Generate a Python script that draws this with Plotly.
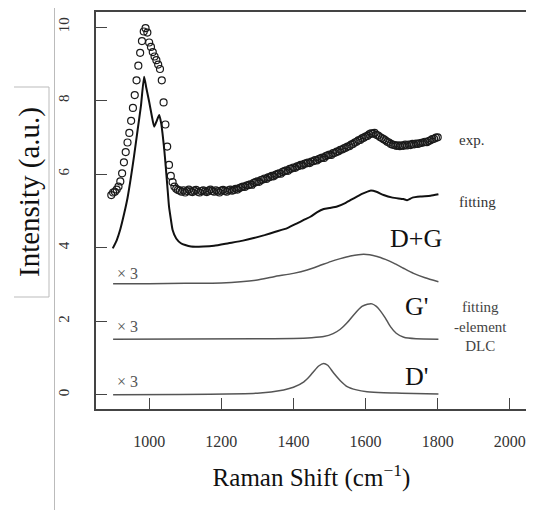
import plotly.graph_objects as go

# ---------------- data ----------------
exp_x = list(range(895, 1801, 5))
exp_y = [
    5.43, 5.50, 5.52, 5.58, 5.66, 5.80, 6.02, 6.32, 6.60, 6.86, 7.12, 7.45, 7.80, 8.15, 8.55, 8.95,
    9.30, 9.62, 9.88, 9.97, 9.85, 9.58, 9.46, 9.32, 9.20, 9.10, 8.98, 8.86, 8.55, 7.95, 7.35, 6.75,
    6.25, 5.95, 5.78, 5.66, 5.60, 5.57,
    5.55, 5.52, 5.56, 5.50, 5.54, 5.58, 5.53, 5.51, 5.55, 5.57, 5.52, 5.50, 5.54, 5.56, 5.53, 5.51,
    5.55, 5.58, 5.54, 5.52, 5.56, 5.53, 5.50, 5.55, 5.57, 5.54, 5.52, 5.56, 5.58, 5.55, 5.57, 5.60,
    5.58, 5.62,
    5.64, 5.66, 5.65, 5.69, 5.70, 5.72, 5.71, 5.76, 5.78, 5.80, 5.79, 5.84, 5.85, 5.88, 5.87, 5.91,
    5.92, 5.95, 5.94, 5.98, 6.00, 6.02, 6.01, 6.06, 6.08, 6.10, 6.09, 6.14, 6.15, 6.18, 6.17, 6.21,
    6.22, 6.25, 6.24, 6.28, 6.29, 6.31, 6.30, 6.34,
    6.35, 6.38, 6.37, 6.41, 6.43, 6.45, 6.44, 6.49, 6.51, 6.53, 6.52, 6.57, 6.58, 6.61, 6.62, 6.66,
    6.67, 6.70, 6.72, 6.75, 6.76, 6.80, 6.82, 6.86, 6.88, 6.92, 6.93, 6.97, 6.99, 7.02, 7.04, 7.08,
    7.11, 7.10, 7.12, 7.07, 7.05, 7.01, 6.98, 6.95,
    6.92, 6.88, 6.86, 6.82, 6.80, 6.79, 6.77, 6.78, 6.76, 6.78, 6.77, 6.80, 6.78, 6.80, 6.79, 6.82,
    6.81, 6.83, 6.82, 6.84, 6.85, 6.86, 6.88, 6.87, 6.90, 6.92, 6.95, 6.96, 6.99, 7.00,
]
n = min(len(exp_x), len(exp_y))
exp_x, exp_y = exp_x[:n], exp_y[:n]

fit_x = [899, 910, 920, 931, 940, 950, 958, 968, 977, 986, 992, 1000, 1007, 1014, 1021, 1028,
         1033, 1037, 1042, 1046, 1051, 1055, 1060, 1065, 1075, 1088, 1100, 1116, 1150, 1180,
         1220, 1260, 1290, 1320, 1350, 1383, 1410, 1430, 1447, 1465, 1484, 1500, 1521, 1545,
         1567, 1590, 1613, 1630, 1650, 1675, 1705, 1715, 1730, 1752, 1780, 1802]
fit_y = [3.98, 4.20, 4.50, 4.94, 5.35, 5.95, 6.48, 7.20, 7.84, 8.65, 8.35, 7.97, 7.60, 7.29,
         7.45, 7.61, 7.40, 7.11, 6.65, 6.20, 5.60, 5.12, 4.78, 4.48, 4.25, 4.12, 4.07, 4.03,
         4.03, 4.05, 4.12, 4.19, 4.26, 4.34, 4.43, 4.53, 4.66, 4.76, 4.84, 4.96, 5.05, 5.08,
         5.12, 5.22, 5.34, 5.46, 5.55, 5.52, 5.43, 5.36, 5.32, 5.29, 5.36, 5.39, 5.41, 5.45]

dg_x = [900, 1000, 1100, 1200, 1254, 1300, 1346, 1400, 1438, 1470, 1503, 1530, 1558, 1595,
        1632, 1655, 1678, 1705, 1733, 1765, 1802]
dg_y = [3.02, 3.02, 3.03, 3.04, 3.07, 3.12, 3.21, 3.30, 3.39, 3.50, 3.62, 3.70, 3.77, 3.82,
        3.76, 3.68, 3.58, 3.44, 3.30, 3.18, 3.07]

gp_x = [900, 1300, 1400, 1450, 1484, 1510, 1530, 1550, 1567, 1590, 1605, 1618, 1630, 1641,
        1655, 1669, 1685, 1706, 1740, 1802]
gp_y = [1.51, 1.52, 1.53, 1.55, 1.58, 1.66, 1.78, 1.97, 2.17, 2.40, 2.46, 2.47, 2.40, 2.28,
        2.08, 1.85, 1.67, 1.56, 1.52, 1.51]

dp_x = [900, 1300, 1373, 1400, 1429, 1445, 1456, 1470, 1484, 1495, 1512, 1530, 1549, 1575,
        1604, 1650, 1700, 1802]
dp_y = [0.00, 0.04, 0.13, 0.20, 0.35, 0.50, 0.63, 0.78, 0.85, 0.80, 0.58, 0.38, 0.22, 0.13,
        0.08, 0.05, 0.04, 0.02]

x_ticks = [1000, 1200, 1400, 1600, 1800, 2000]
y_ticks = [0, 2, 4, 6, 8, 10]

SERIF = "Liberation Serif, Times New Roman, serif"

fig = go.Figure()
fig.add_trace(go.Scatter(x=exp_x, y=exp_y, mode="markers",
                         marker=dict(symbol="circle-open", size=7, color="#1a1a1a",
                                     line=dict(width=1.2, color="#1a1a1a")),
                         showlegend=False, hoverinfo="skip"))
fig.add_trace(go.Scatter(x=fit_x, y=fit_y, mode="lines",
                         line=dict(color="#111", width=2, shape="spline", smoothing=0.5),
                         showlegend=False))
for bx, by in [(dg_x, dg_y), (gp_x, gp_y), (dp_x, dp_y)]:
    fig.add_trace(go.Scatter(x=bx, y=by, mode="lines",
                             line=dict(color="#555", width=1.5, shape="spline", smoothing=0.6),
                             showlegend=False))

# annotations
def ann(x, y, text, size, color, xanchor="left"):
    fig.add_annotation(x=x, y=y, xref="x", yref="y", text=text, showarrow=False,
                       xanchor=xanchor, yanchor="middle",
                       font=dict(family=SERIF, size=size, color=color))

ann(1853, 6.93, "exp.", 15, "#333")
ann(1853, 5.25, "fitting", 15, "#333")
ann(1663, 4.26, "D+G", 26, "#111")
ann(1705, 2.39, "G'", 26, "#111")
ann(1705, 0.49, "D'", 26, "#111")
fig.add_annotation(x=1918, y=1.85, xref="x", yref="y", showarrow=False,
                   text="fitting<br>-element<br>DLC", align="center", xanchor="center", yanchor="middle",
                   font=dict(family=SERIF, size=15, color="#444"))
for yy in [3.30, 1.85, 0.35]:
    ann(906, yy, "× 3", 16, "#555")

# plot-area geometry in screen pixels (page has an 8px body offset)
W, H_ = 431, 397
def px(xp):
    return (xp - 96) / W
def py(yp):
    return (409 - yp) / H_

# y title as annotation
fig.add_annotation(x=px(29), y=py(192), xref="paper", yref="paper",
                   text="Intensity (a.u.)",
                   textangle=-90, showarrow=False, xanchor="center", yanchor="middle",
                   font=dict(family=SERIF, size=29, color="#111"))

# slide artifacts: grey frame lines
grey = dict(color="#bbbbbb", width=1)
fig.add_shape(type="line", xref="paper", yref="paper", x0=px(54.5), x1=px(54.5), y0=py(4), y1=py(510), line=grey)
fig.add_shape(type="line", xref="paper", yref="paper", x0=px(14), x1=px(49), y0=py(87), y1=py(87), line=grey)
fig.add_shape(type="line", xref="paper", yref="paper", x0=px(49), x1=px(49), y0=py(87), y1=py(297), line=grey)
fig.add_shape(type="line", xref="paper", yref="paper", x0=px(14), x1=px(49), y0=py(297), y1=py(297), line=grey)

fig.update_xaxes(range=[852.6, 2047.6], tickvals=x_ticks, ticktext=[str(v) for v in x_ticks],
                 ticks="inside", ticklen=11, tickwidth=1.2, tickcolor="#444",
                 showline=True, linecolor="#444", linewidth=1.5, mirror=True,
                 showgrid=False, zeroline=False, ticklabelstandoff=17, automargin=False,
                 tickfont=dict(family=SERIF, size=16, color="#333"),
                 title=dict(text="Raman Shift (cm<sup>−1</sup>)", standoff=20,
                            font=dict(family=SERIF, size=25, color="#111")))
fig.update_yaxes(range=[-0.39, 10.41], tickvals=y_ticks, ticktext=[str(v) for v in y_ticks],
                 ticks="inside", ticklen=11, tickwidth=1.2, tickcolor="#444", tickangle=-90,
                 showline=True, linecolor="#444", linewidth=1.5, mirror=True,
                 showgrid=False, zeroline=False, ticklabelstandoff=19, automargin=False,
                 tickfont=dict(family=SERIF, size=15, color="#333"))

fig.update_layout(width=534, height=510, margin=dict(l=88, r=15, t=4, b=109, autoexpand=False),
                  paper_bgcolor="white", plot_bgcolor="white", showlegend=False)

fig.write_html("out.html")
